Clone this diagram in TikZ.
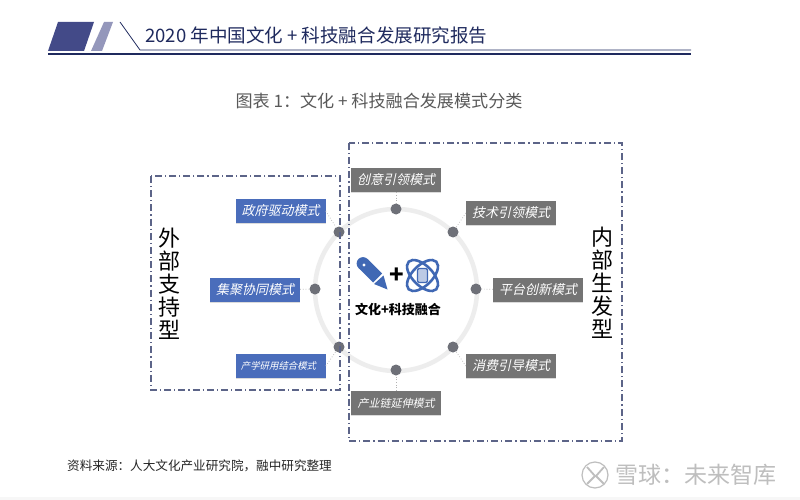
\documentclass[tikz,border=0pt]{standalone}
\usepackage{fontspec}
\setmainfont{Noto Sans CJK SC}
\newfontfamily\slantcjk[FakeSlant=0.22]{Noto Sans CJK SC}
\usetikzlibrary{shadows}
\definecolor{navy}{HTML}{1F2A5E}
\definecolor{navyfill}{HTML}{434A88}
\definecolor{navylight}{HTML}{9497BB}
\definecolor{boxblue}{HTML}{4A6DBB}
\definecolor{boxgrey}{HTML}{747474}
\definecolor{dotgrey}{HTML}{6E7078}
\definecolor{dashc}{HTML}{5C6488}
\definecolor{iconblue}{HTML}{4068B4}
\definecolor{wm}{HTML}{BEBEBE}
\newcommand{\fs}[1]{\fontsize{#1}{#1}\selectfont}
\tikzset{
  modebox/.style={minimum width=90pt,minimum height=24pt,inner sep=0pt,text=white,
    font=\slantcjk\fs{13},drop shadow={shadow xshift=0.4pt,shadow yshift=-1.2pt,opacity=0.28}},
  bluebox/.style={modebox,fill=boxblue},
  greybox/.style={modebox,fill=boxgrey},
  hub/.style={circle,fill=dotgrey,minimum size=11pt,inner sep=0pt},
  link/.style={draw=black!30,line width=0.7pt,dotted},
  dashbox/.style={draw=dashc,line width=1.1pt,dash pattern=on 7pt off 3pt on 1.2pt off 3pt},
  vtext/.style={align=center,inner sep=0pt,font=\fontsize{22}{23}\selectfont},
  txt/.style={inner sep=0pt}
}
\begin{document}
\begin{tikzpicture}[x=1pt,y=-1pt]
\useasboundingbox (0,0) rectangle (800,500);
\fill[white] (0,0) rectangle (800,500);
\fill[black!3] (0,497) rectangle (800,500);
% header
\fill[navyfill] (58,22) -- (94,22) -- (84,51) -- (48,51) -- cycle;
\fill[navylight] (104,22) -- (113,22) -- (102,51) -- (91,51) -- cycle;
\draw[navy,line width=0.8pt] (120,22) -- (140,50) -- (691,50);
\draw[navy,line width=2pt] (48,54) -- (691,54);
\node[txt,anchor=west,text=navy,font=\fs{18.55}] (title) at (145,35) {2020 年中国文化 + 科技融合发展研究报告};
\node[txt,anchor=center,text=black!65,font=\fs{17.1}] (sub) at (379,101) {图表 1：文化 + 科技融合发展模式分类};
% ring
\coordinate (c) at (396,290);
\draw[black!7,line width=4.5pt] (c) circle [radius=81pt];
% hubs
\node[hub] (h1) at (396,209) {};
\node[hub] (h2) at (453,232) {};
\node[hub] (h3) at (476,289) {};
\node[hub] (h4) at (453,347) {};
\node[hub] (h5) at (396,370) {};
\node[hub] (h6) at (339,347) {};
\node[hub] (h7) at (315,289) {};
\node[hub] (h8) at (339,232) {};
% boxes
\node[greybox] (b1) at (396,180) {创意引领模式};
\node[greybox] (b2) at (511,213) {技术引领模式};
\node[greybox] (b3) at (538,290) {平台创新模式};
\node[greybox] (b4) at (511,366) {消费引导模式};
\node[greybox,font=\slantcjk\fs{11}] (b5) at (396,403) {产业链延伸模式};
\node[bluebox,font=\slantcjk\fs{9.4}] (b6) at (280.5,366) {\hspace*{-4pt}产学研用结合模式};
\node[bluebox] (b7) at (255,290) {集聚协同模式};
\node[bluebox] (b8) at (280.5,211) {政府驱动模式};
% connectors
\draw[link] (b1) -- (h1);
\draw[link] (b2.west) -- (h2);
\draw[link] (b3) -- (h3);
\draw[link] (b4.west) -- (h4);
\draw[link] (b5) -- (h5);
\draw[link] (b6.east) -- (h6);
\draw[link] (b7) -- (h7);
\draw[link] (b8.east) -- (h8);
% dashed frames
\draw[dashbox] (151,176) rectangle (340,390);
\draw[dashbox] (349,143) rectangle (622,441);
% side labels
\node[vtext] (outer) at (169,283.5) {外\\部\\支\\持\\型};
\node[vtext] (inner) at (602.5,282.5) {内\\部\\生\\发\\型};
% pen icon
\fill[iconblue] (363,263.5) circle [radius=6.4pt];
\fill[iconblue] (367.5,259) -- (382,273.5) -- (373,282.5) -- (358.5,268) -- cycle;
\fill[white] (364,265) circle [radius=1.7pt];
\fill[iconblue] (383.5,275.5) -- (387.5,289.5) -- (374,284) -- cycle;
% atom icon
\begin{scope}[shift={(422.5,275.5)}]
  \draw[iconblue,line width=2.6pt,rotate=45] (0,0) ellipse [x radius=19.5pt,y radius=10pt];
  \draw[iconblue,line width=2.6pt,rotate=-45] (0,0) ellipse [x radius=19.5pt,y radius=10pt];
  \draw[iconblue,fill=iconblue!35,line width=1.1pt,rounded corners=1.5pt] (-5,-7) rectangle (5,7);
\end{scope}
\node[txt,font=\bfseries\fs{24}] (plus) at (397,276) {+};
\node[txt,font=\bfseries\fs{13}] (core) at (398,309) {文化+科技融合};
% footer
\node[txt,anchor=west,text=black!85,font=\fs{12.6}] (src) at (67,466) {资料来源：人大文化产业研究院，融中研究整理};
% watermark
\draw[wm,line width=1.2pt] (595,475) circle [radius=13pt];
\draw[wm,line width=1.8pt] (587,467) -- (595,476) -- (587,484);
\draw[wm,line width=1.8pt] (604,467) -- (596,476) -- (604,484);
\node[txt,anchor=west,text=wm,font=\fs{23}] (mark) at (615,475) {雪球：未来智库};
\end{tikzpicture}
\end{document}
